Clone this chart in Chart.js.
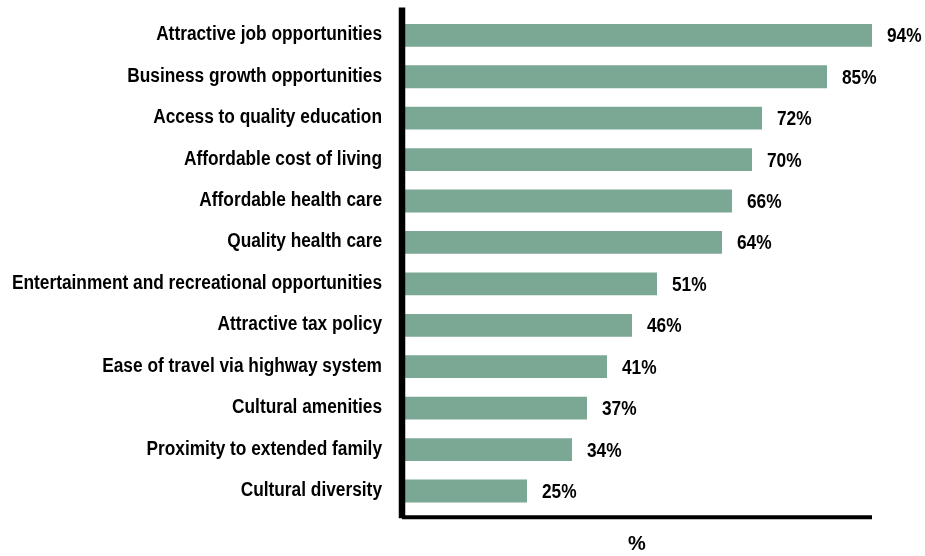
<!DOCTYPE html>
<html>
<head>
<meta charset="utf-8">
<script src="https://cdn.jsdelivr.net/npm/chart.js@4.4.1/dist/chart.umd.min.js"></script>
<style>
  html, body { margin: 0; padding: 0; background: #fff; }
  #wrap { width: 925px; height: 556px; position: relative; }
</style>
</head>
<body>
<div id="wrap"><canvas id="factorsChart" width="925" height="556"></canvas></div>
<script>
const categories = [
  'Attractive job opportunities',
  'Business growth opportunities',
  'Access to quality education',
  'Affordable cost of living',
  'Affordable health care',
  'Quality health care',
  'Entertainment and recreational opportunities',
  'Attractive tax policy',
  'Ease of travel via highway system',
  'Cultural amenities',
  'Proximity to extended family',
  'Cultural diversity'
];
const percentages = [94, 85, 72, 70, 66, 64, 51, 46, 41, 37, 34, 25];
const axisTitle = '%';

const FONT = '"Liberation Sans", Arial, sans-serif';
const LABEL_FONT = 'bold 20px ' + FONT;
const SQUEEZE = 0.865;   // fake a condensed face by narrowing the glyphs
const BAR_COLOR = '#7ba795';

// draw text narrowed horizontally, anchored at x
function squeezedText(ctx, text, x, y, align) {
  ctx.save();
  ctx.translate(x, y);
  ctx.scale(SQUEEZE, 1);
  ctx.textAlign = align;
  ctx.fillText(text, 0, 0);
  ctx.restore();
}

// thick black axis lines, running a little past the plot area
const axisLines = {
  id: 'axisLines',
  afterDatasetsDraw(chart) {
    const { ctx, chartArea } = chart;
    const x0 = chart.scales.x.getPixelForValue(0);
    ctx.save();
    ctx.strokeStyle = '#000';
    ctx.lineWidth = 4;
    ctx.beginPath();
    ctx.moveTo(x0, chartArea.bottom + 5.6);
    ctx.lineTo(chartArea.right, chartArea.bottom + 5.6);
    ctx.stroke();
    ctx.lineWidth = 6.5;
    ctx.beginPath();
    ctx.moveTo(x0, 7.5);
    ctx.lineTo(x0, chartArea.bottom + 6.5);
    ctx.stroke();
    ctx.restore();
  }
};

// category names on the left and percentages at the end of each bar
const textLabels = {
  id: 'textLabels',
  afterDatasetsDraw(chart) {
    const { ctx } = chart;
    const yScale = chart.scales.y;
    const x0 = chart.scales.x.getPixelForValue(0);
    const meta = chart.getDatasetMeta(0);
    ctx.save();
    ctx.fillStyle = '#000';
    ctx.font = LABEL_FONT;
    ctx.textBaseline = 'middle';
    categories.forEach((name, i) => {
      squeezedText(ctx, name, x0 - 20, yScale.getPixelForValue(i) - 0.5, 'right');
    });
    meta.data.forEach((bar, i) => {
      squeezedText(ctx, percentages[i] + '%', bar.x + 15, bar.y + 1.5, 'left');
    });
    ctx.restore();
  }
};

new Chart(document.getElementById('factorsChart'), {
  type: 'bar',
  data: {
    labels: categories,
    datasets: [{
      data: percentages,
      backgroundColor: BAR_COLOR,
      borderWidth: 0,
      barPercentage: 0.55,
      categoryPercentage: 1
    }]
  },
  options: {
    indexAxis: 'y',
    responsive: false,
    animation: false,
    layout: { padding: { top: 14.6, right: 53, bottom: 0, left: 0 } },
    plugins: {
      legend: { display: false },
      tooltip: { enabled: false }
    },
    scales: {
      x: {
        min: 0,
        max: Math.max(...percentages),
        grid: { display: false },
        border: { display: false },
        ticks: { display: false },
        title: {
          display: true,
          text: axisTitle,
          color: '#000',
          font: { family: FONT, size: 20, weight: 'bold' },
          padding: { top: 0, bottom: 0 }
        },
        afterFit(scale) { scale.height = 44.3; }
      },
      y: {
        grid: { display: false },
        border: { display: false },
        ticks: { display: false },
        afterFit(scale) {
          scale.width = 402;
          scale.paddingTop = 0;
          scale.paddingBottom = 0;
        }
      }
    }
  },
  plugins: [axisLines, textLabels]
});
</script>
</body>
</html>
